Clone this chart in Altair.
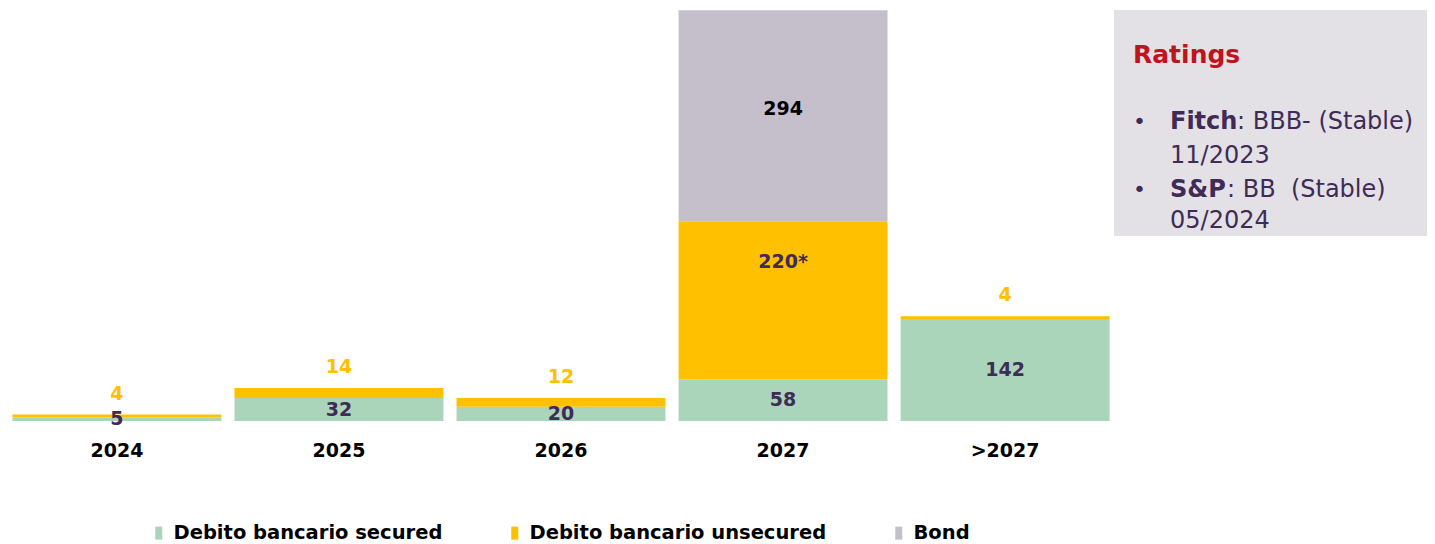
import altair as alt
import pandas as pd

years = ["2024", "2025", "2026", "2027", ">2027"]
secured = [5, 32, 20, 58, 142]
unsecured = [4, 14, 12, 220, 4]
bond = [0, 0, 0, 294, 0]
unsecured_labels = ["4", "14", "12", "220*", "4"]
series = ["Debito bancario secured", "Debito bancario unsecured", "Bond"]
colors = ["#aad5bb", "#ffc000", "#c5bfcc"]

PURPLE = "#3f2b56"
YELLOW = "#ffc000"
FONT = "DejaVu Sans"

rows = []
for i, yr in enumerate(years):
    for k, vals in enumerate([secured, unsecured, bond]):
        if vals[i] > 0:
            rows.append(dict(year=yr, series=series[k], value=vals[i], order=k))
df = pd.DataFrame(rows)

inside, above = [], []
for i, yr in enumerate(years):
    inside.append(dict(year=yr, y=secured[i] / 2, text=str(secured[i]), color=PURPLE))
    if unsecured[i] > 50:
        inside.append(dict(year=yr, y=secured[i] + unsecured[i] * 0.74,
                           text=unsecured_labels[i], color=PURPLE))
    else:
        above.append(dict(year=yr, y=secured[i] + unsecured[i],
                          text=unsecured_labels[i], color=YELLOW))
    if bond[i] > 0:
        inside.append(dict(year=yr, y=secured[i] + unsecured[i] + bond[i] * 0.53,
                           text=str(bond[i]), color="#000000"))
inside_df = pd.DataFrame(inside)
above_df = pd.DataFrame(above)

xscale = alt.Scale(domain=years, range=[0, 1106], paddingInner=0.059, paddingOuter=0.02)
yscale = alt.Scale(domain=[0, 575])

bars = alt.Chart(df).mark_bar().encode(
    x=alt.X("year:N", scale=xscale, sort=years,
            axis=alt.Axis(title=None, labelAngle=0, domain=False, ticks=False, grid=False,
                          labelFontSize=19, labelFontWeight="bold", labelColor="#000000",
                          labelFont=FONT, labelPadding=20)),
    y=alt.Y("value:Q", stack="zero", scale=yscale, axis=None),
    color=alt.Color("series:N", scale=alt.Scale(domain=series, range=colors),
                    legend=alt.Legend(title=None, orient="none", direction="horizontal",
                                      legendX=141, legendY=515,
                                      symbolType="M-0.54,-1H0.54V1H-0.54Z", symbolSize=169,
                                      symbolStrokeWidth=0, symbolOpacity=1,
                                      labelFontSize=19.5, labelFontWeight="bold",
                                      labelFont=FONT, labelColor="#000000", labelLimit=0,
                                      labelOffset=5, columnPadding=62)),
    order=alt.Order("order:Q"),
)

txt_inside = alt.Chart(inside_df).mark_text(
    fontSize=19, fontWeight="bold", font=FONT, baseline="middle"
).encode(
    x=alt.X("year:N", scale=xscale, sort=years),
    y=alt.Y("y:Q", scale=yscale),
    text="text:N",
    color=alt.Color("color:N", scale=None),
)

txt_above = alt.Chart(above_df).mark_text(
    fontSize=19, fontWeight="bold", font=FONT, baseline="bottom", dy=-11
).encode(
    x=alt.X("year:N", scale=xscale, sort=years),
    y=alt.Y("y:Q", scale=yscale),
    text="text:N",
    color=alt.Color("color:N", scale=None),
)

one = pd.DataFrame({"a": [0]})
box = alt.Chart(one).mark_rect(color="#e3e1e6").encode(
    x=alt.value(1106), x2=alt.value(1419), y=alt.value(2), y2=alt.value(228)
)

def t(text, x, y, bold=False, color=PURPLE, size=24):
    return alt.Chart(one).mark_text(
        text=text, align="left", baseline="alphabetic", font=FONT,
        fontSize=size, fontWeight="bold" if bold else "normal", color=color
    ).encode(x=alt.value(x), y=alt.value(y))

ratings = [
    t("Ratings", 1125, 55, bold=True, color="#c0141c", size=25),
    t("•", 1125, 121, size=22),
    t("Fitch", 1162, 121, bold=True),
    t(": BBB- (Stable)", 1229, 121),
    t("11/2023", 1162, 155),
    t("•", 1125, 189, size=22),
    t("S&P", 1162, 189, bold=True),
    t(": BB\u00a0 (Stable)", 1219, 189),
    t("05/2024", 1162, 220),
]

chart = alt.layer(bars, txt_inside, txt_above, box, *ratings).properties(
    width=1419, height=413, padding=0
).configure(font=FONT).configure_view(strokeWidth=0, stroke="transparent")

chart.save("out.html", embed_options={"renderer": "svg", "actions": False})
